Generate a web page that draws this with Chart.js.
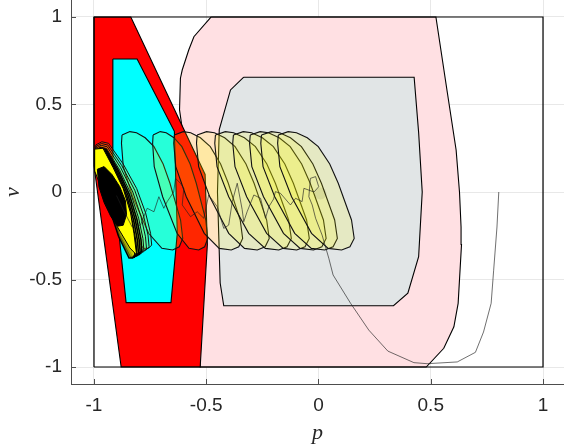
<!DOCTYPE html>
<html><head><meta charset="utf-8">
<script src="https://cdn.jsdelivr.net/npm/chart.js@4/dist/chart.umd.min.js"></script>
<style>html,body{margin:0;padding:0;background:#fff;}#wrap{width:564px;height:446px;}</style>
</head><body><div id="wrap"><canvas id="c" width="564" height="446"></canvas></div>
<script>
const xTicks = [-1, -0.5, 0, 0.5, 1];
const yTicks = [-1, -0.5, 0, 0.5, 1];

const frameP = [-1, 1, 1, -1];
const frameV = [-1, -1, 1, 1];

const pinkP = [-0.478,-0.555,-0.578,-0.607,-0.615,-0.619,-0.6,-0.56,-0.527,0.48,0.558,0.603,0.622,0.637,0.635,0.628,0.613,0.574,0.523];
const pinkV = [1,0.887,0.811,0.697,0.65,0.469,0.3,-0.3,-1,-1,-0.893,-0.77,-0.636,-0.3,-0.2,0,0.24,0.567,1];

const redP = [-1,-0.836,-0.505,-0.495,-0.527,-0.879,-1];
const redV = [1,1,0.1,-0.3,-1,-1,0.15];

const cyanP = [-0.916,-0.808,-0.642,-0.629,-0.657,-0.857,-0.916];
const cyanV = [0.76,0.76,0.347,-0.235,-0.632,-0.632,0.1];

const grayP = [-0.333,0.426,0.446,0.462,0.446,0.398,0.334,-0.422,-0.438,-0.45,-0.442,-0.392];
const grayV = [0.656,0.656,0.34,0,-0.37,-0.578,-0.65,-0.65,-0.52,0,0.357,0.583];

// outline of one reachable set, relative to its centre
const ovalShapeP = [-0.169,-0.125,-0.088,-0.04,0.009,0.06,0.098,0.157,0.169,0.150,0.113,0.053,-0.021,-0.110,-0.162,-0.172];
const ovalShapeV = [0.326,0.345,0.339,0.31,0.259,0.16,0.05,-0.16,-0.265,-0.313,-0.331,-0.322,-0.236,-0.027,0.145,0.278];
const ovalCenterP = [-0.74,-0.615,-0.49,-0.38,-0.29,-0.21,-0.135,-0.085,-0.01];
const ovalScaleP = [0.8,0.72,0.9,0.95,1,1,1,1,1];

// thin sets stacked at the left wall
const leftOvalP = [-0.992,-0.965,-0.935,-0.87,-0.81,-0.77,-0.748,-0.743,-0.757,-0.78,-0.846,-0.935,-0.988];
const leftOvalV = [0.269,0.287,0.278,0.16,0.02,-0.12,-0.236,-0.303,-0.322,-0.322,-0.198,0.05,0.183];
const leftStackK = [1,0.955,0.91,0.865];
const leftStackDv = [0,-0.01,-0.02,-0.03];
const bandStackK = [0.83,0.8,0.77,0.74,0.71];
const bandStackDv = [-0.035,-0.04,-0.045,-0.05,-0.055];

const yellowP = [-0.997,-0.96,-0.915,-0.87,-0.837,-0.822,-0.81,-0.84,-0.9,-0.96,-0.997];
const yellowV = [0.245,0.25,0.14,0.02,-0.12,-0.236,-0.36,-0.32,-0.19,0.0,0.12];

const blobP = [-0.985,-0.955,-0.92,-0.885,-0.86,-0.855,-0.87,-0.895,-0.925,-0.955,-0.978];
const blobV = [0.13,0.145,0.1,0.03,-0.05,-0.13,-0.19,-0.195,-0.14,-0.06,0.03];

const trajP = [0.803,0.795,0.78,0.769,0.735,0.699,0.618,0.484,0.425,0.309,0.224,0.143,0.065,0.046,0.016,-0.013,-0.028,-0.043,-0.036,-0.013,0.001,-0.02,-0.065,-0.073,-0.102,-0.125,-0.169,-0.192,-0.2,-0.221,-0.236,-0.258,-0.288,-0.318,-0.333,-0.34,-0.362,-0.384,-0.4,-0.422,-0.451,-0.489,-0.511,-0.54,-0.57,-0.607,-0.6,-0.615,-0.637,-0.645,-0.674,-0.689,-0.711,-0.733,-0.763,-0.793,-0.83,-0.87,-0.9];
const trajV = [0,-0.2,-0.45,-0.636,-0.8,-0.916,-0.971,-0.981,-0.975,-0.909,-0.789,-0.636,-0.474,-0.379,-0.246,-0.15,-0.074,-0.027,0.078,0.088,0.03,0.0,0.021,-0.055,-0.036,-0.074,-0.008,0.002,-0.04,-0.084,-0.15,-0.036,-0.017,-0.113,-0.17,-0.1,0.05,-0.055,-0.189,-0.208,-0.084,-0.017,-0.15,-0.113,-0.141,-0.074,0.021,0.05,0.078,0.0,-0.055,-0.093,-0.027,-0.113,-0.093,-0.189,-0.2,-0.1,-0.02];

const startP = [0.009];
const startV = [-0.008];

function pts(P, V, close) {
  const a = P.map((p, i) => ({x: p, y: V[i]}));
  if (close) a.push({x: P[0], y: V[0]});
  return a;
}
const layers = [];
function poly(data, fillC, lineC, lw) {
  layers.push({data, backgroundColor: fillC || 'rgba(0,0,0,0)', borderColor: lineC, borderWidth: lw,
    fill: fillC ? 'shape' : false, showLine: true, pointRadius: 0, pointHoverRadius: 0, tension: 0});
}
const YEL = 'rgba(255,255,0,0.15)';
poly(pts(pinkP, pinkV, true), 'rgb(255,224,227)', '#000', 1.1);
poly(pts(redP, redV, true), '#ff0000', '#000', 1.1);
poly(pts(cyanP, cyanV, true), '#00ffff', '#000', 1.1);
poly(pts(grayP, grayV, true), 'rgb(225,229,230)', '#000', 1.1);
ovalCenterP.forEach((c, j) => {
  const P = ovalShapeP.map(p => c + p * ovalScaleP[j]);
  poly(pts(P, ovalShapeV, true), YEL, '#111', 1.1);
});
leftStackK.forEach((k, j) => {
  const P = leftOvalP.map(p => -1 + (p + 1) * k);
  const V = leftOvalV.map(v => v + leftStackDv[j]);
  poly(pts(P, V, true), YEL, '#111', 1.0);
});
bandStackK.forEach((k, j) => {
  const P = leftOvalP.map(p => -1 + (p + 1) * k);
  const V = leftOvalV.map(v => v + bandStackDv[j]);
  poly(pts(P, V, true), 'rgba(255,255,0,0.4)', '#000', 1.6);
});
poly(pts(yellowP, yellowV, true), '#ffff00', '#000', 1.0);
poly(pts(blobP, blobV, true), '#000', '#000', 1.0);
layers.push({data: pts(trajP, trajV, false), borderColor: 'rgba(30,30,30,0.8)', borderWidth: 0.8,
  showLine: true, fill: false, pointRadius: 0, tension: 0});
layers.push({data: pts(startP, startV, false), showLine: false, pointRadius: 6, pointBorderWidth: 0,
  backgroundColor: 'rgba(0,0,0,0.07)', borderColor: 'rgba(0,0,0,0)'});
poly(pts(frameP, frameV, true), null, '#000', 1.2);

const N = layers.length;
layers.forEach((d, i) => { d.order = N - i; });

const innerTicks = {
  id: 'innerTicks',
  afterDraw(chart) {
    const ctx = chart.ctx, xs = chart.scales.x, ys = chart.scales.y;
    ctx.save();
    ctx.strokeStyle = '#4d4d4d'; ctx.lineWidth = 1;
    ctx.beginPath();
    xTicks.forEach(t => { const px = Math.round(xs.getPixelForValue(t)) + 0.5; ctx.moveTo(px, xs.top); ctx.lineTo(px, xs.top - 5); });
    yTicks.forEach(t => { const py = Math.round(ys.getPixelForValue(t)) + 0.5; ctx.moveTo(ys.right, py); ctx.lineTo(ys.right + 5, py); });
    ctx.stroke();
    ctx.restore();
  }
};

const tickFont = {family: "'Liberation Sans', Arial, sans-serif", size: 19};
const titleFont = {family: "'Liberation Serif', 'DejaVu Serif', serif", size: 22, style: 'italic'};
const gridCfg = {color: 'rgba(0,0,0,0.09)', lineWidth: 1, drawTicks: false};

new Chart(document.getElementById('c'), {
  type: 'scatter',
  data: {datasets: layers},
  options: {
    responsive: false, animation: false, devicePixelRatio: 1,
    layout: {padding: 0, autoPadding: false},
    plugins: {legend: {display: false}, tooltip: {enabled: false}},
    events: [],
    scales: {
      x: {
        type: 'linear', position: 'bottom', min: -1.1024, max: 1.0935, z: 1,
        afterBuildTicks: s => { s.ticks = xTicks.map(v => ({value: v})); },
        afterFit: s => { s.height = 62; s.paddingLeft = 0; s.paddingRight = 0; },
        grid: gridCfg,
        border: {display: true, color: '#4d4d4d', width: 1},
        ticks: {padding: 10, font: tickFont, color: '#262626', maxRotation: 0, autoSkip: false, callback: v => String(v)},
        title: {display: true, text: 'p', font: titleFont, color: '#262626', padding: {top: 0, bottom: 0}}
      },
      y: {
        type: 'linear', position: 'left', min: -1.097, max: 1.097, z: 1,
        afterBuildTicks: s => { s.ticks = yTicks.map(v => ({value: v})); },
        afterFit: s => { s.width = 71; s.paddingTop = 0; s.paddingBottom = 0; },
        grid: gridCfg,
        border: {display: true, color: '#4d4d4d', width: 1},
        ticks: {padding: 9, font: tickFont, color: '#262626', autoSkip: false, callback: v => String(v)},
        title: {display: true, text: 'v', font: titleFont, color: '#262626', padding: {top: 0, bottom: 0}}
      }
    }
  },
  plugins: [innerTicks]
});
</script>
</body></html>
